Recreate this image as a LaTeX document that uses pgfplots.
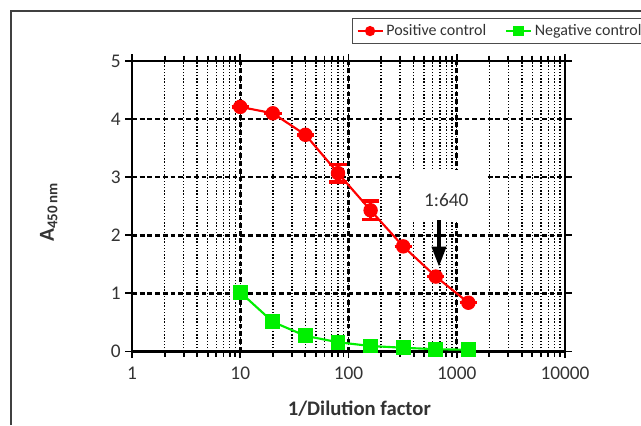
\documentclass[border=0pt]{standalone}
\usepackage{fontspec}
\setmainfont{Carlito}
\usepackage{pgfplots}
\pgfplotsset{compat=1.18}
\usetikzlibrary{arrows.meta}
\definecolor{posred}{RGB}{255,0,0}
\definecolor{neggreen}{RGB}{0,240,0}
\definecolor{txt}{RGB}{51,51,51}

\pgfplotstableread{
x    y     e
10   4.21  0
20   4.10  0
40   3.73  0
80   3.07  0.15
160  2.43  0.16
320  1.81  0
640  1.29  0
1280 0.84  0
}\positive

\pgfplotstableread{
x    y
10   1.02
20   0.51
40   0.27
80   0.16
160  0.095
320  0.065
640  0.04
1280 0.03
}\negative

\begin{document}
\begin{tikzpicture}
\useasboundingbox (0,0) rectangle (480.75pt,318.75pt);
\draw[line width=0.9pt, black!75] (8.25pt,0) -- (8.25pt,310.5pt) -- (480.75pt,310.5pt);
\begin{axis}[
    at={(99pt,55.1pt)}, anchor=south west,
    scale only axis,
    width=324.75pt, height=217.9pt,
    xmode=log,
    xmin=1, xmax=10000, ymin=0, ymax=5,
    xtick={1,10,100,1000,10000},
    xticklabels={1,10,100,1000,10000},
    ytick={0,1,2,3,4,5},
    axis line style={line width=1.8pt},
    tick align=outside,
    major tick length=5pt, minor tick length=4pt,
    every tick/.style={black, line width=1.4pt},
    grid=both,
    major grid style={black, line width=1.9pt, dash pattern=on 3.6pt off 2.2pt},
    minor grid style={black, line width=1.1pt, dash pattern=on 1pt off 1.4pt},
    /pgf/number format/assume math mode=true,
    tick label style={font=\fontsize{14.5}{16}\selectfont, text=txt},
    xticklabel style={yshift=-3pt},
    xlabel={\textbf{1/Dilution factor}},
    xlabel style={font=\fontsize{15.5}{17}\selectfont, text=txt,
        at={(axis description cs:0.525,-0.198)}, anchor=center},
    ylabel={\textbf{A\textsubscript{450\,nm}}},
    ylabel style={font=\fontsize{16}{17}\selectfont, text=txt,
        at={(axis description cs:-0.192,0.48)}, anchor=center},
    legend columns=2,
    legend image code/.code={
        \draw[mark repeat=2, mark phase=2, #1, mark size=3pt]
            plot coordinates {(0cm,0cm) (0.33cm,0cm) (0.66cm,0cm)};},
    legend style={at={(0.508,1.148)}, anchor=north west,
        draw=black!70, line width=0.75pt,
        font=\fontsize{12}{14}\selectfont, text=txt,
        inner ysep=2.5pt,
        /tikz/every even column/.append style={column sep=12pt}},
]
\addplot[posred, line width=1.6pt, mark=*, mark size=4.6pt,
    error bars/.cd, y dir=both, y explicit,
    error bar style={line width=2.2pt},
    error mark options={rotate=90, mark size=6.5pt, line width=2.6pt}]
    table[x=x, y=y, y error=e] {\positive};
\addplot[neggreen, line width=1.6pt, mark=square*, mark size=4.8pt]
    table[x=x, y=y] {\negative};
\legend{Positive control, Negative control}

\fill[white] (axis cs:312,2.263) rectangle (axis cs:1862,3.124);
\node[text=txt, font=\fontsize{14.5}{16}\selectfont] at (axis cs:800,2.61) {1:640};
\draw[line width=2.8pt, -{Triangle[width=10.5pt,length=15pt]}]
    (axis cs:685,2.26) -- (axis cs:685,1.46);
\end{axis}
\end{tikzpicture}
\end{document}
